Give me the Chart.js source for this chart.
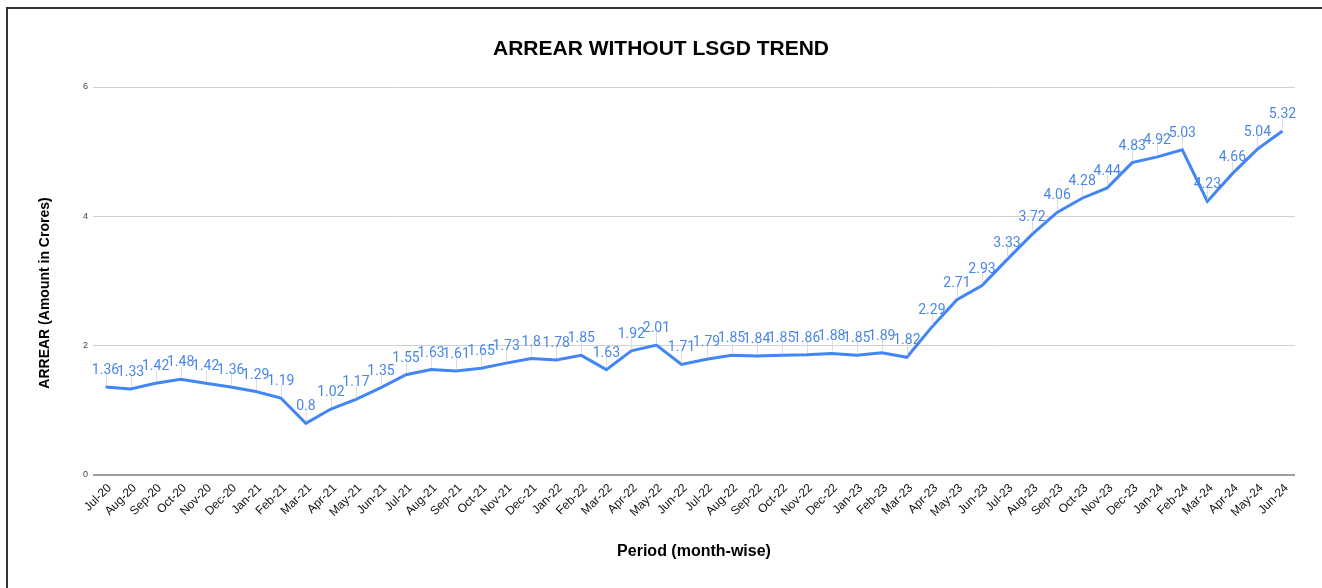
<!DOCTYPE html>
<html>
<head>
<meta charset="utf-8">
<script src="https://cdn.jsdelivr.net/npm/chart.js@4.4.1/dist/chart.umd.min.js"></script>
<style>
    html, body { margin: 0; padding: 0; background: #fff; overflow: hidden; }
    #frame { position: absolute; left: 6px; top: 7px; width: 1400px; height: 700px;
             border-left: 2px solid #333; border-top: 2px solid #333; }
    #wrap { position: absolute; left: 0; top: 0; width: 1322px; height: 588px; }
</style>
</head>
<body>
<div id="frame"></div>
<div id="wrap"><canvas id="arrearChart"></canvas></div>
<script>
// --- DATA ---
const months = [
    'Jul-20', 'Aug-20', 'Sep-20', 'Oct-20', 'Nov-20', 'Dec-20',
    'Jan-21', 'Feb-21', 'Mar-21', 'Apr-21', 'May-21', 'Jun-21',
    'Jul-21', 'Aug-21', 'Sep-21', 'Oct-21', 'Nov-21', 'Dec-21',
    'Jan-22', 'Feb-22', 'Mar-22', 'Apr-22', 'May-22', 'Jun-22',
    'Jul-22', 'Aug-22', 'Sep-22', 'Oct-22', 'Nov-22', 'Dec-22',
    'Jan-23', 'Feb-23', 'Mar-23', 'Apr-23', 'May-23', 'Jun-23',
    'Jul-23', 'Aug-23', 'Sep-23', 'Oct-23', 'Nov-23', 'Dec-23',
    'Jan-24', 'Feb-24', 'Mar-24', 'Apr-24', 'May-24', 'Jun-24'
];
const arrearValues = [
    1.36, 1.33, 1.42, 1.48, 1.42, 1.36,
    1.29, 1.19, 0.8, 1.02, 1.17, 1.35,
    1.55, 1.63, 1.61, 1.65, 1.73, 1.8,
    1.78, 1.85, 1.63, 1.92, 2.01, 1.71,
    1.79, 1.85, 1.84, 1.85, 1.86, 1.88,
    1.85, 1.89, 1.82, 2.29, 2.71, 2.93,
    3.33, 3.72, 4.06, 4.28, 4.44, 4.83,
    4.92, 5.03, 4.23, 4.66, 5.04, 5.32
];
const yTicks = [0, 2, 4, 6];

const chartTitle = 'ARREAR WITHOUT LSGD TREND';
const xTitle = 'Period (month-wise)';
const yTitle = 'ARREAR (Amount in Crores)';

// data labels with the small grey leader line above each point
const pointLabels = {
    id: 'pointLabels',
    afterDatasetsDraw(chart) {
        const ctx = chart.ctx;
        const meta = chart.getDatasetMeta(0);
        ctx.save();
        ctx.font = '14px Roboto, "Noto Sans", sans-serif';
        ctx.textAlign = 'center';
        ctx.textBaseline = 'alphabetic';
        meta.data.forEach((pt, i) => {
            ctx.strokeStyle = '#dcdcdc';
            ctx.lineWidth = 1;
            ctx.beginPath();
            ctx.moveTo(Math.round(pt.x) + 0.5, pt.y - 2);
            ctx.lineTo(Math.round(pt.x) + 0.5, pt.y - 13);
            ctx.stroke();
            ctx.fillStyle = '#4a86e8';
            ctx.fillText(String(arrearValues[i]), pt.x, pt.y - 13);
        });
        ctx.restore();
    }
};

// y axis title, centred on the whole picture height like the original
const yAxisTitle = {
    id: 'yAxisTitle',
    afterDraw(chart) {
        const ctx = chart.ctx;
        ctx.save();
        ctx.translate(45, 293);
        ctx.rotate(-Math.PI / 2);
        ctx.font = 'bold 14px "Liberation Sans", Arial, sans-serif';
        ctx.fillStyle = '#000';
        ctx.textAlign = 'center';
        ctx.textBaseline = 'middle';
        ctx.fillText(yTitle, 0, 0);
        ctx.restore();
    }
};

const ctx = document.getElementById('arrearChart').getContext('2d');
new Chart(ctx, {
    type: 'line',
    data: {
        labels: months,
        datasets: [{
            label: 'ARREAR',
            data: arrearValues,
            borderColor: '#4285f4',
            borderWidth: 3,
            pointRadius: 0,
            pointHoverRadius: 0,
            tension: 0,
            fill: false
        }]
    },
    options: {
        responsive: true,
        maintainAspectRatio: false,
        animation: false,
        layout: { padding: { left: 27, right: 27, top: 0, bottom: 0 } },
        plugins: {
            legend: { display: false },
            tooltip: { enabled: false },
            title: {
                display: true,
                text: chartTitle,
                color: '#000',
                font: { family: '"Liberation Sans", Arial, sans-serif', size: 21, weight: 'bold', lineHeight: 1.2 },
                padding: { top: 37, bottom: 24.8 }
            }
        },
        scales: {
            x: {
                offset: true,
                grid: { display: false, drawTicks: false },
                border: { display: false },
                ticks: {
                    autoSkip: false,
                    maxRotation: 45,
                    minRotation: 45,
                    padding: 6,
                    labelOffset: 4,
                    color: '#111',
                    font: { family: '"Liberation Sans", Arial, sans-serif', size: 12 }
                },
                title: {
                    display: true,
                    text: xTitle,
                    color: '#000',
                    font: { family: '"Liberation Sans", Arial, sans-serif', size: 16, weight: 'bold', lineHeight: 1.2 },
                    padding: { top: 0, bottom: 27 }
                },
                afterFit(scale) { scale.height = 113; }
            },
            y: {
                min: 0,
                max: 6,
                afterBuildTicks(scale) { scale.ticks = yTicks.map(v => ({ value: v })); },
                grid: {
                    drawTicks: false,
                    color: c => c.tick && c.tick.value === 0 ? '#9e9e9e' : '#d0d0d0',
                    lineWidth: c => c.tick && c.tick.value === 0 ? 2 : 1
                },
                border: { display: false },
                ticks: {
                    padding: 5,
                    color: '#444',
                    font: { family: '"Liberation Sans", Arial, sans-serif', size: 9 }
                },
                afterFit(scale) { scale.width = 66; }
            }
        }
    },
    plugins: [pointLabels, yAxisTitle]
});
</script>
</body>
</html>
